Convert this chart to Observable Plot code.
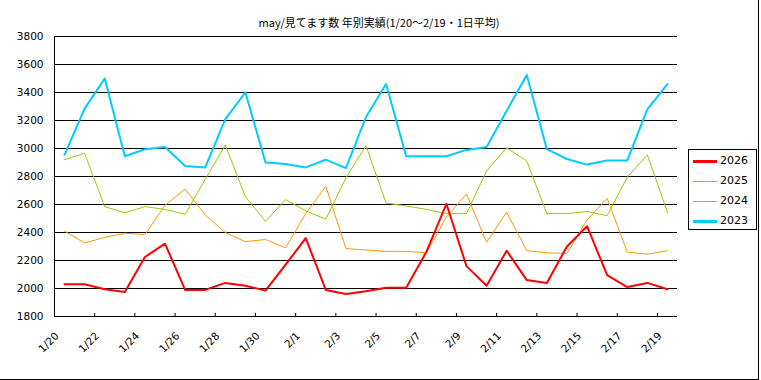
<!DOCTYPE html>
<html>
<head>
<meta charset="utf-8">
<script src="https://cdn.jsdelivr.net/npm/d3@7"></script>
<script src="https://cdn.jsdelivr.net/npm/@observablehq/plot@0.6"></script>
<style>
  html, body { margin: 0; padding: 0; background: #fff; }
  #chart { position: relative; width: 759px; height: 380px; box-sizing: border-box;
           border-right: 1px solid #000; border-bottom: 1px solid #000; background: #fff; overflow: hidden; }
  #title { position: absolute; left: 0; top: 14px; width: 758px; height: 16px; line-height: 16px;
           text-align: center; font-family: "Noto Sans CJK JP", sans-serif; font-size: 11px; color: #000; }
  #plot { position: absolute; left: 0; top: 30px; }
  #legend { position: absolute; left: 688px; top: 149px; width: 69px; height: 81px; box-sizing: border-box;
            border: 1px solid #000; background: #fff; font-family: "DejaVu Sans", sans-serif; font-size: 11px; color: #000; }
  .row { position: absolute; left: 0; height: 20px; width: 100%; }
  .sw { position: absolute; left: 4px; width: 24px; }
  .lb { position: absolute; left: 31px; top: 3px; line-height: 14px; }
</style>
</head>
<body>
<div id="chart">
  <div id="title">may/見てます数 年別実績(1/20～2/19・1日平均)</div>
  <div id="plot"></div>
  <div id="legend"></div>
</div>
<script>
const dates = ["1/20","1/21","1/22","1/23","1/24","1/25","1/26","1/27","1/28","1/29","1/30","1/31",
  "2/1","2/2","2/3","2/4","2/5","2/6","2/7","2/8","2/9","2/10","2/11","2/12","2/13","2/14","2/15","2/16","2/17","2/18","2/19"];

const v2026 = [2030,2030,1995,1975,2225,2320,1990,1990,2040,2020,1985,2170,2360,1990,1960,1980,2005,2005,2260,2605,2160,2020,2270,2060,2040,2300,2445,2095,2010,2040,1995];
const v2025 = [2410,2325,2365,2395,2385,2595,2710,2525,2400,2335,2350,2290,2535,2730,2285,2275,2265,2265,2255,2510,2675,2330,2545,2270,2255,2250,2490,2645,2260,2245,2270];
const v2024 = [2920,2965,2585,2540,2585,2565,2530,2780,3025,2655,2480,2635,2555,2495,2790,3020,2610,2590,2565,2535,2535,2840,3005,2910,2535,2535,2550,2520,2795,2955,2545];
const v2023 = [2955,3285,3500,2945,2995,3010,2875,2865,3210,3400,2900,2890,2865,2920,2860,3225,3460,2945,2945,2945,2990,3010,3270,3525,2995,2925,2885,2915,2915,3280,3460];

const seriesNames = ["2026","2025","2024","2023"];
const seriesValues = [v2026, v2025, v2024, v2023];
const seriesColors = ["#FF0000","#FF9900","#99CC00","#00CCFF"];
const seriesWidths = [2, 1, 1, 2];

const yTicks = [1800,2000,2200,2400,2600,2800,3000,3200,3400,3600,3800];

const n = dates.length;
const labelIdx = dates.map((d, i) => i).filter(i => i % 2 === 0);
const tickPos = dates.map((d, i) => i).filter(i => i % 2 === 0 && i > 0).map(i => i - 0.5);
const yMin = yTicks[0], yMax = yTicks[yTicks.length - 1];
const tickLen = (yTicks[1] - yTicks[0]) * 0.11;

const lineMarks = [];
for (let s = seriesNames.length - 1; s >= 0; s--) {
  lineMarks.push(Plot.line(seriesValues[s], {
    x: (d, i) => i, y: d => d,
    stroke: seriesColors[s], strokeWidth: seriesWidths[s], curve: "linear"
  }));
}

const chart = Plot.plot({
  width: 758, height: 350,
  marginLeft: 54, marginRight: 81, marginTop: 6, marginBottom: 64,
  style: { fontFamily: "DejaVu Sans, sans-serif", fontSize: "10.5px", color: "#000", background: "#fff" },
  x: { type: "linear", domain: [-0.5, n - 0.5], axis: null },
  y: { domain: [yMin, yMax], axis: null },
  marks: [
    Plot.ruleY(yTicks, { stroke: "#000", strokeWidth: 1 }),
    Plot.ruleX([-0.5], { stroke: "#000", strokeWidth: 1 }),
    Plot.ruleX(tickPos, { y1: yMin, y2: yMin + tickLen, stroke: "#000" }),
    Plot.text(yTicks, { x: -0.5, y: d => d, text: d => String(d), textAnchor: "end", dx: -11, fill: "#000" }),
    Plot.text(labelIdx, { x: d => d, text: d => dates[d], frameAnchor: "bottom", dx: -5, dy: 20, rotate: -45, textAnchor: "end", fill: "#000" }),
    ...lineMarks
  ]
});
document.getElementById("plot").appendChild(chart);

const legend = document.getElementById("legend");
seriesNames.forEach((name, s) => {
  const row = document.createElement("div");
  row.className = "row";
  row.style.top = (1 + s * 20) + "px";
  const sw = document.createElement("div");
  sw.className = "sw";
  const h = seriesWidths[s] > 1 ? 3 : 1;
  sw.style.height = h + "px";
  sw.style.top = (10 - Math.floor(h / 2)) + "px";
  sw.style.background = seriesColors[s];
  const lb = document.createElement("div");
  lb.className = "lb";
  lb.textContent = name;
  row.appendChild(sw);
  row.appendChild(lb);
  legend.appendChild(row);
});
</script>
</body>
</html>
